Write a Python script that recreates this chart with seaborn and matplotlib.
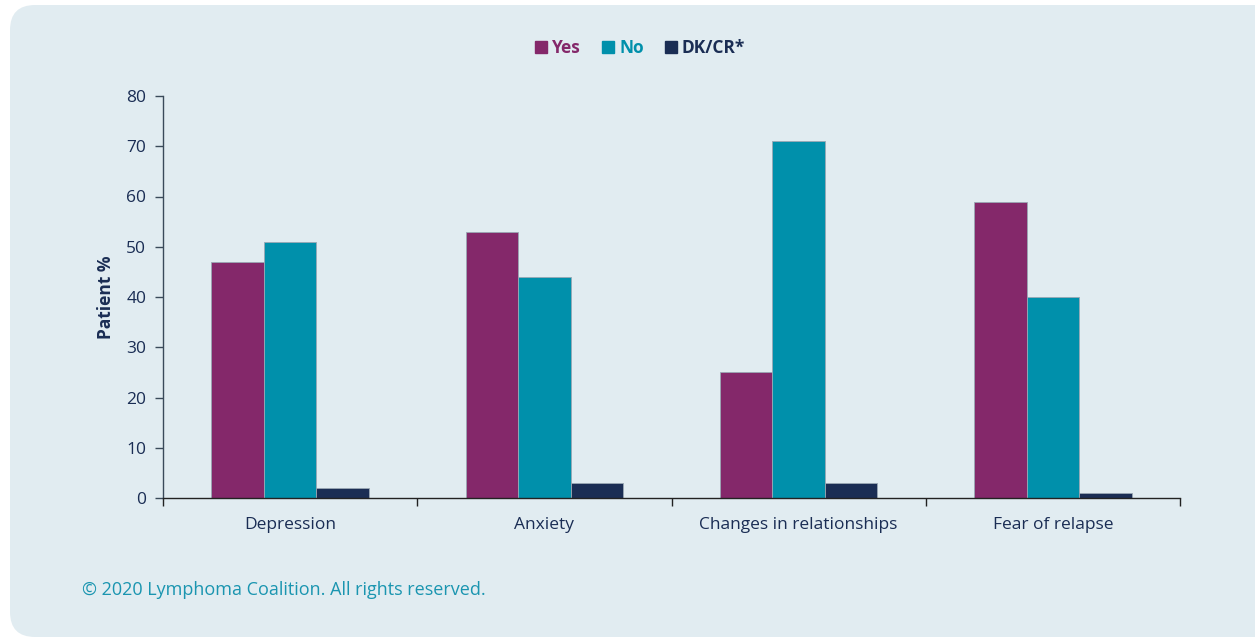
import pandas as pd
import matplotlib.pyplot as plt
import seaborn as sns
from matplotlib.patches import FancyBboxPatch

# chart data
categories = ["Depression", "Anxiety", "Changes in relationships", "Fear of relapse"]
yes_vals = [47, 53, 25, 59]
no_vals = [51, 44, 71, 40]
dk_vals = [2, 3, 3, 1]
series = ["Yes", "No", "DK/CR*"]
yticks = [0, 10, 20, 30, 40, 50, 60, 70, 80]

colors = {"Yes": "#84286a", "No": "#0090ab", "DK/CR*": "#1a2d54"}
bg = "#e1ecf1"
text_col = "#1a2d54"

df = pd.DataFrame({"Category": categories, "Yes": yes_vals, "No": no_vals, "DK/CR*": dk_vals})
long = df.melt(id_vars="Category", var_name="Answer", value_name="Percent")

sns.set_style("white")
plt.rcParams["font.family"] = ["Open Sans", "DejaVu Sans"]

fig = plt.figure(figsize=(12.55, 6.37), dpi=100)
fig.patch.set_facecolor("white")

# rounded panel behind the chart
panel = FancyBboxPatch((10 / 1255, 0.0), 1.2, 1 - 5 / 637,
                       boxstyle="round,pad=0,rounding_size=0.02",
                       transform=fig.transFigure, facecolor=bg, edgecolor="none",
                       mutation_aspect=1255 / 637, zorder=-10)
fig.patches.append(panel)

ax = fig.add_axes([163 / 1255, 1 - 498 / 637, (1180 - 163) / 1255, (498 - 96) / 637])
ax.set_zorder(1)
ax.patch.set_alpha(0)

sns.barplot(data=long, x="Category", y="Percent", hue="Answer", hue_order=series,
            palette=colors, width=0.62, gap=0, saturation=1, ax=ax, legend=False,
            linewidth=0.6, edgecolor="#9aa8b4")

ax.set_xlim(-0.5, 3.5)
ax.set_ylim(0, 80)
ax.set_yticks(yticks)
ax.tick_params(axis="y", left=True, length=6, width=1, color="#3a4a5a", labelsize=12.5,
               labelcolor=text_col, pad=6, direction="out")
ax.set_xticks(range(len(categories)))
ax.set_xticklabels(categories)
ax.tick_params(axis="x", which="major", bottom=True, length=0, labelsize=12.5,
               labelcolor=text_col, pad=14)
ax.set_xticks([-0.5, 0.5, 1.5, 2.5, 3.5], minor=True)
ax.tick_params(axis="x", which="minor", bottom=True, length=6, width=1, color="#222222",
               direction="out")

for s in ["top", "right"]:
    ax.spines[s].set_visible(False)
ax.spines["left"].set_color("#3a4a5a")
ax.spines["bottom"].set_color("#222222")
ax.spines["left"].set_linewidth(1)
ax.spines["bottom"].set_linewidth(1)

ax.set_xlabel("")
ax.set_ylabel("Patient %", fontsize=12.5, fontweight="bold", color=text_col, labelpad=8)

# legend
handles = [plt.Rectangle((0, 0), 1, 1, color=colors[s]) for s in series]
leg = fig.legend(handles, series, loc="center", bbox_to_anchor=(640 / 1255, 1 - 48 / 637),
                 ncol=3, frameon=False, handlelength=0.7, handleheight=0.7,
                 handletextpad=0.3, columnspacing=1.2,
                 prop={"size": 12.5, "weight": "bold"})
for t, s in zip(leg.get_texts(), series):
    t.set_color(colors[s])

fig.text(82 / 1255, 1 - 590 / 637, "\u00a9 2020 Lymphoma Coalition. All rights reserved.",
         fontsize=13, color="#1a95b0", va="center", ha="left")

plt.savefig("out.png", dpi=100)
